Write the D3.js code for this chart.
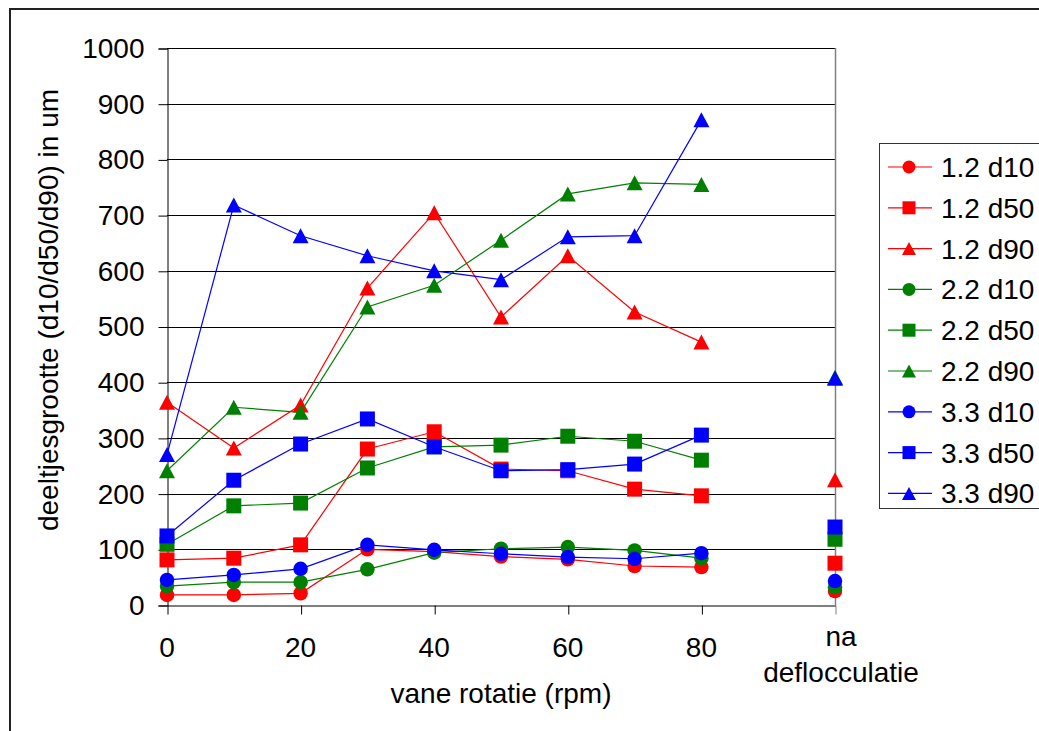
<!DOCTYPE html>
<html>
<head>
<meta charset="utf-8">
<script src="https://cdn.jsdelivr.net/npm/d3@7/dist/d3.min.js"></script>
<style>
  html, body { margin: 0; padding: 0; background: #fff; }
  svg { display: block; }
  text { font-family: "Liberation Sans", Arial, sans-serif; fill: #000; }
</style>
</head>
<body>
<svg id="chart" width="1039" height="731"></svg>
<script>
// x positions (rpm); last one is "na deflocculatie"
const xValues = [0, 10, 20, 30, 40, 50, 60, 70, 80, 100];
const xTickValues = [0, 20, 40, 60, 80, 100];
const xTickLabels = ["0", "20", "40", "60", "80", "na|deflocculatie"];
const yTickValues = [0, 100, 200, 300, 400, 500, 600, 700, 800, 900, 1000];

const seriesNames = ["1.2 d10", "1.2 d50", "1.2 d90", "2.2 d10", "2.2 d50", "2.2 d90", "3.3 d10", "3.3 d50", "3.3 d90"];
const s12d10 = [18, 18, 21, 100, 96, 87, 82, 70, 68, 25];
const s12d50 = [81, 84, 108, 280, 311, 244, 241, 208, 196, 75];
const s12d90 = [364, 282, 359, 569, 704, 517, 627, 526, 472, 225];
const s22d10 = [34, 41, 41, 64, 94, 101, 104, 98, 84, 32];
const s22d50 = [109, 178, 183, 246, 284, 287, 303, 294, 260, 118];
const s22d90 = [241, 355, 346, 535, 574, 655, 738, 758, 755, 409];
const s33d10 = [45, 54, 65, 108, 99, 92, 86, 83, 93, 43];
const s33d50 = [124, 224, 289, 334, 284, 241, 243, 253, 305, 140];
const s33d90 = [270, 718, 663, 627, 600, 584, 661, 663, 871, 407];

const seriesValues = [s12d10, s12d50, s12d90, s22d10, s22d50, s22d90, s33d10, s33d50, s33d90];
const seriesColors = ["#FF0000", "#FF0000", "#FF0000", "#008000", "#008000", "#008000", "#0000FF", "#0000FF", "#0000FF"];
const seriesShapes = ["circle", "square", "triangle", "circle", "square", "triangle", "circle", "square", "triangle"];

const svg = d3.select("#chart");
const FONT = 28;

// outer chart frame
svg.append("rect").attr("x", 10).attr("y", 9).attr("width", 1060).attr("height", 760)
  .attr("fill", "none").attr("stroke", "#222").attr("stroke-width", 2);

const x = d3.scaleLinear().domain([0, 100]).range([167, 835]);
const y = d3.scaleLinear().domain([0, 1000]).range([605, 48]);

// gridlines
svg.append("g").selectAll("line").data(yTickValues.filter(v => v > 0)).join("line")
  .attr("x1", x(0)).attr("x2", x(100))
  .attr("y1", d => Math.round(y(d)) + 0.5).attr("y2", d => Math.round(y(d)) + 0.5)
  .attr("stroke", "#000").attr("stroke-width", 1);

// right border of plot
svg.append("line").attr("x1", x(100) + 0.5).attr("x2", x(100) + 0.5)
  .attr("y1", y(1000)).attr("y2", y(0))
  .attr("stroke", "#808080").attr("stroke-width", 1.5);

// y axis
const yAxis = d3.axisLeft(y).tickValues(yTickValues).tickSize(9).tickPadding(14).tickFormat(d3.format("d"));
const gy = svg.append("g").attr("transform", `translate(${x(0) + 0.5},0.5)`).call(yAxis);
gy.select(".domain").attr("stroke", "#000");
gy.selectAll(".tick line").attr("stroke", "#000");
gy.selectAll("text").style("font-size", FONT + "px").attr("font-family", "Liberation Sans, Arial, sans-serif").attr("fill", "#000");

// x axis
const xAxis = d3.axisBottom(x).tickValues(xTickValues).tickSize(9).tickSizeOuter(0).tickFormat("");
const gx = svg.append("g").attr("transform", `translate(0.5,${Math.round(y(0)) + 0.5})`).call(xAxis);
gx.select(".domain").attr("stroke", "#000");
gx.selectAll(".tick line").attr("stroke", (d) => d === 100 ? "#808080" : "#000");

// x tick labels
xTickValues.forEach((v, i) => {
  const parts = xTickLabels[i].split("|");
  if (parts.length === 1) {
    svg.append("text").attr("x", x(v)).attr("y", 657).attr("text-anchor", "middle")
      .style("font-size", FONT + "px").text(parts[0]);
  } else {
    parts.forEach((p, j) => {
      svg.append("text").attr("x", x(v) + 6).attr("y", 646 + j * 36).attr("text-anchor", "middle")
        .style("font-size", FONT + "px").text(p);
    });
  }
});

// axis titles
svg.append("text").attr("x", (x(0) + x(100)) / 2).attr("y", 703).attr("text-anchor", "middle")
  .style("font-size", FONT + "px").text("vane rotatie (rpm)");
svg.append("text").attr("transform", "translate(58,310) rotate(-90)").attr("text-anchor", "middle")
  .style("font-size", FONT + "px").text("deeltjesgrootte (d10/d50/d90) in um");

function markerPath(shape, s) {
  if (shape === "circle") {
    const r = s / 2;
    return `M${-r},0A${r},${r} 0 1,0 ${r},0A${r},${r} 0 1,0 ${-r},0Z`;
  }
  if (shape === "square") {
    const h = s / 2;
    return `M${-h},${-h}H${h}V${h}H${-h}Z`;
  }
  const w = s / 2 + 0.5, h = s / 2;
  return `M0,${-h}L${w},${h}L${-w},${h}Z`;
}

const line = d3.line().x((d) => x(d[0])).y((d) => y(d[1]));

seriesValues.forEach((vals, si) => {
  const g = svg.append("g");
  const pts = xValues.map((xv, i) => [xv, vals[i]]);
  g.append("path").datum(pts.slice(0, 9)).attr("d", line)
    .attr("fill", "none").attr("stroke", seriesColors[si]).attr("stroke-width", 1.2);
  g.selectAll("path.m").data(pts).join("path").attr("class", "m")
    .attr("transform", (d) => `translate(${x(d[0])},${y(d[1])})`)
    .attr("d", markerPath(seriesShapes[si], seriesShapes[si] === "circle" ? 14.5 : 15))
    .attr("fill", seriesColors[si]);
});

// legend
const lg = svg.append("g");
lg.append("rect").attr("x", 879.5).attr("y", 143.5).attr("width", 200).attr("height", 365)
  .attr("fill", "#fff").attr("stroke", "#333").attr("stroke-width", 1);
seriesNames.forEach((name, i) => {
  const cy = 167 + i * 40.8;
  lg.append("line").attr("x1", 888).attr("x2", 932).attr("y1", cy).attr("y2", cy)
    .attr("stroke", seriesColors[i]).attr("stroke-width", 1.2);
  lg.append("path").attr("transform", `translate(909,${cy})`)
    .attr("d", markerPath(seriesShapes[i], 13)).attr("fill", seriesColors[i]);
  lg.append("text").attr("x", 941).attr("y", cy + 10).style("font-size", FONT + "px").text(name);
});
</script>
</body>
</html>
